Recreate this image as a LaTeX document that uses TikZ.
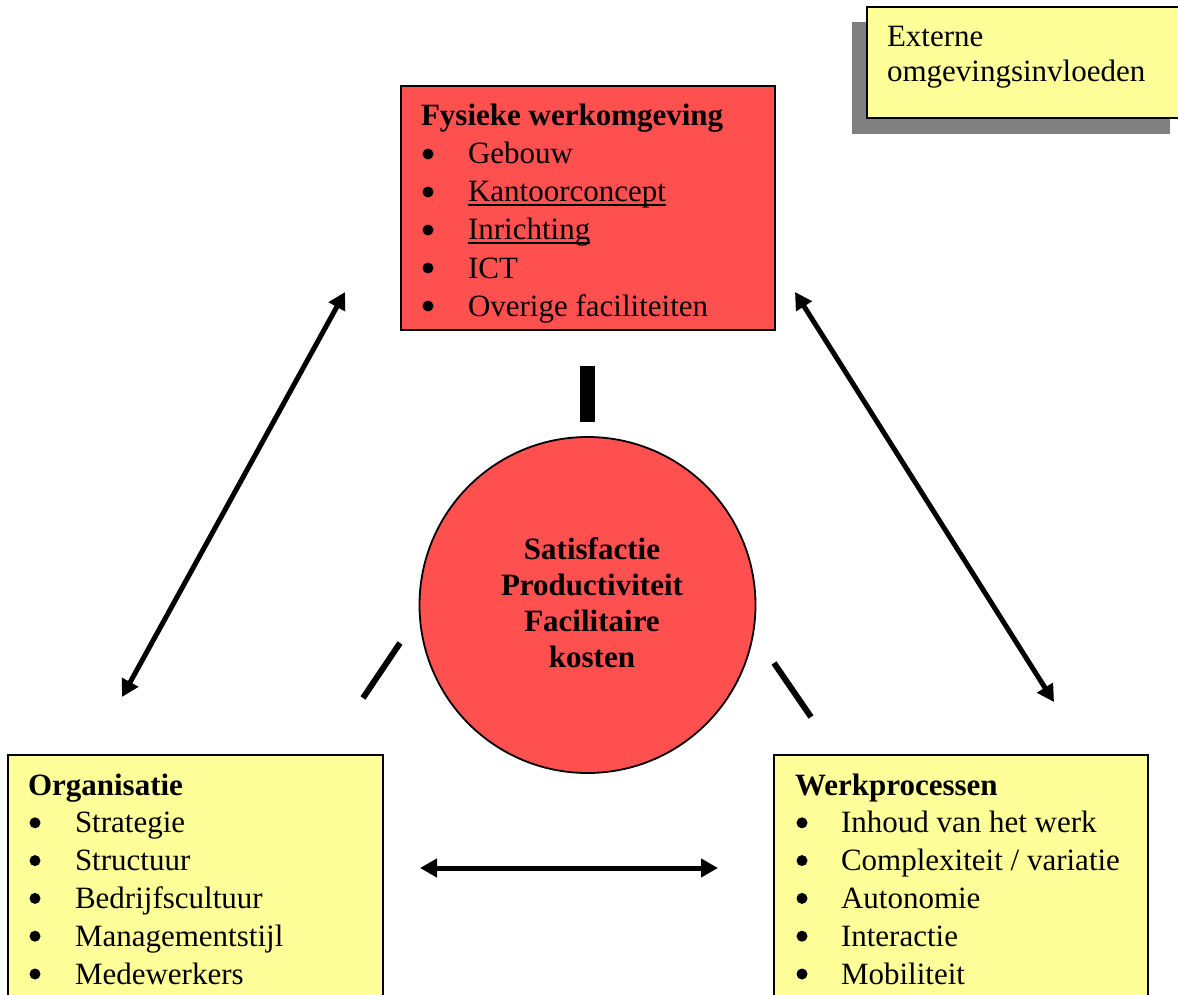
\documentclass[tikz,border=0pt]{standalone}
\usepackage{fontspec}
\setmainfont{Liberation Serif}
\usetikzlibrary{arrows.meta}
\definecolor{boxred}{RGB}{255,80,80}
\definecolor{boxyellow}{RGB}{255,255,153}
\definecolor{shadowgray}{RGB}{128,128,128}
\begin{document}
\begin{tikzpicture}[x=1pt,y=-1pt,
  every node/.style={font=\fontsize{31}{37}\selectfont, inner sep=0pt, outer sep=0pt},
  txt/.style={anchor=base west},
  ctxt/.style={anchor=base, font=\fontsize{31}{37}\selectfont\bfseries},
  panel/.style={draw=black, line width=1.8pt, anchor=north west, fill=#1},
  bul/.style={fill=black},
  arr/.style={line width=5pt, {Triangle[length=17pt,width=18pt]}-{Triangle[length=17pt,width=18pt]}},
  bar/.style={line width=6pt, line cap=butt}
]
\useasboundingbox (0,0) rectangle (1178,995);

% external influences box
\fill[shadowgray] (852,22) rectangle (1170,134);
\node[panel=boxyellow, minimum width=330pt, minimum height=111pt] (ext) at (867,7) {};
\node[txt] (ext1) at (887,47) {Externe};
\node[txt] (ext2) at (887,82) {omgevingsinvloeden};

% physical work environment box
\node[panel=boxred, minimum width=374pt, minimum height=244pt] (fys) at (401,86) {};
\node[txt] (fyst) at (421,126) {\bfseries Fysieke werkomgeving};
\foreach \t [count=\i] in {Gebouw,Kantoorconcept,Inrichting,ICT,Overige faciliteiten}{
  \pgfmathsetmacro{\yy}{126+38*\i}
  \fill[bul] (428,\yy-10) circle (5.5pt);
  \node[txt] (f\i) at (468,\yy) {\t};
}
\draw[line width=1.5pt] ([yshift=-3pt]f2.base west) -- ([yshift=-3pt]f2.base east);
\draw[line width=1.5pt] ([yshift=-3pt]f3.base west) -- ([yshift=-3pt]f3.base east);

% organisation box
\node[panel=boxyellow, minimum width=375pt, minimum height=260pt] (org) at (8,755) {};
\node[txt] (orgt) at (28,795) {\bfseries Organisatie};
\foreach \t [count=\i] in {Strategie,Structuur,Bedrijfscultuur,Managementstijl,Medewerkers}{
  \pgfmathsetmacro{\yy}{795+37.8*\i}
  \fill[bul] (35,\yy-10) circle (5.5pt);
  \node[txt] (o\i) at (75,\yy) {\t};
}

% work processes box
\node[panel=boxyellow, minimum width=374pt, minimum height=260pt] (wp) at (774,755) {};
\node[txt] (wpt) at (795,795) {\bfseries Werkprocessen};
\foreach \t [count=\i] in {Inhoud van het werk,Complexiteit / variatie,Autonomie,Interactie,Mobiliteit}{
  \pgfmathsetmacro{\yy}{795+37.8*\i}
  \fill[bul] (802,\yy-10) circle (5.5pt);
  \node[txt] (w\i) at (841,\yy) {\t};
}

% central circle
\node[circle, draw=black, line width=1.8pt, fill=boxred, minimum size=336pt] (circ) at (587.5,605) {};
\node[ctxt] (c1) at (592,559) {Satisfactie};
\node[ctxt] (c2) at (592,595) {Productiviteit};
\node[ctxt] (c3) at (592,631) {Facilitaire};
\node[ctxt] (c4) at (592,667) {kosten};

% bars
\fill[black] (580,366) rectangle (595,422);
\coordinate (lb1) at (400,643);
\coordinate (lb2) at (363,698);
\coordinate (rb1) at (774,663);
\coordinate (rb2) at (811,717);
\draw[bar] (lb1) -- (lb2);
\draw[bar] (rb1) -- (rb2);

% arrows
\coordinate (a1) at (345,292);
\coordinate (a2) at (122,697);
\coordinate (b1) at (795,292);
\coordinate (b2) at (1054,702);
\coordinate (h1) at (420,868);
\coordinate (h2) at (718,868);
\draw[arr] (a1) -- (a2);
\draw[arr] (b1) -- (b2);
\draw[arr] (h1) -- (h2);
\end{tikzpicture}
\end{document}
